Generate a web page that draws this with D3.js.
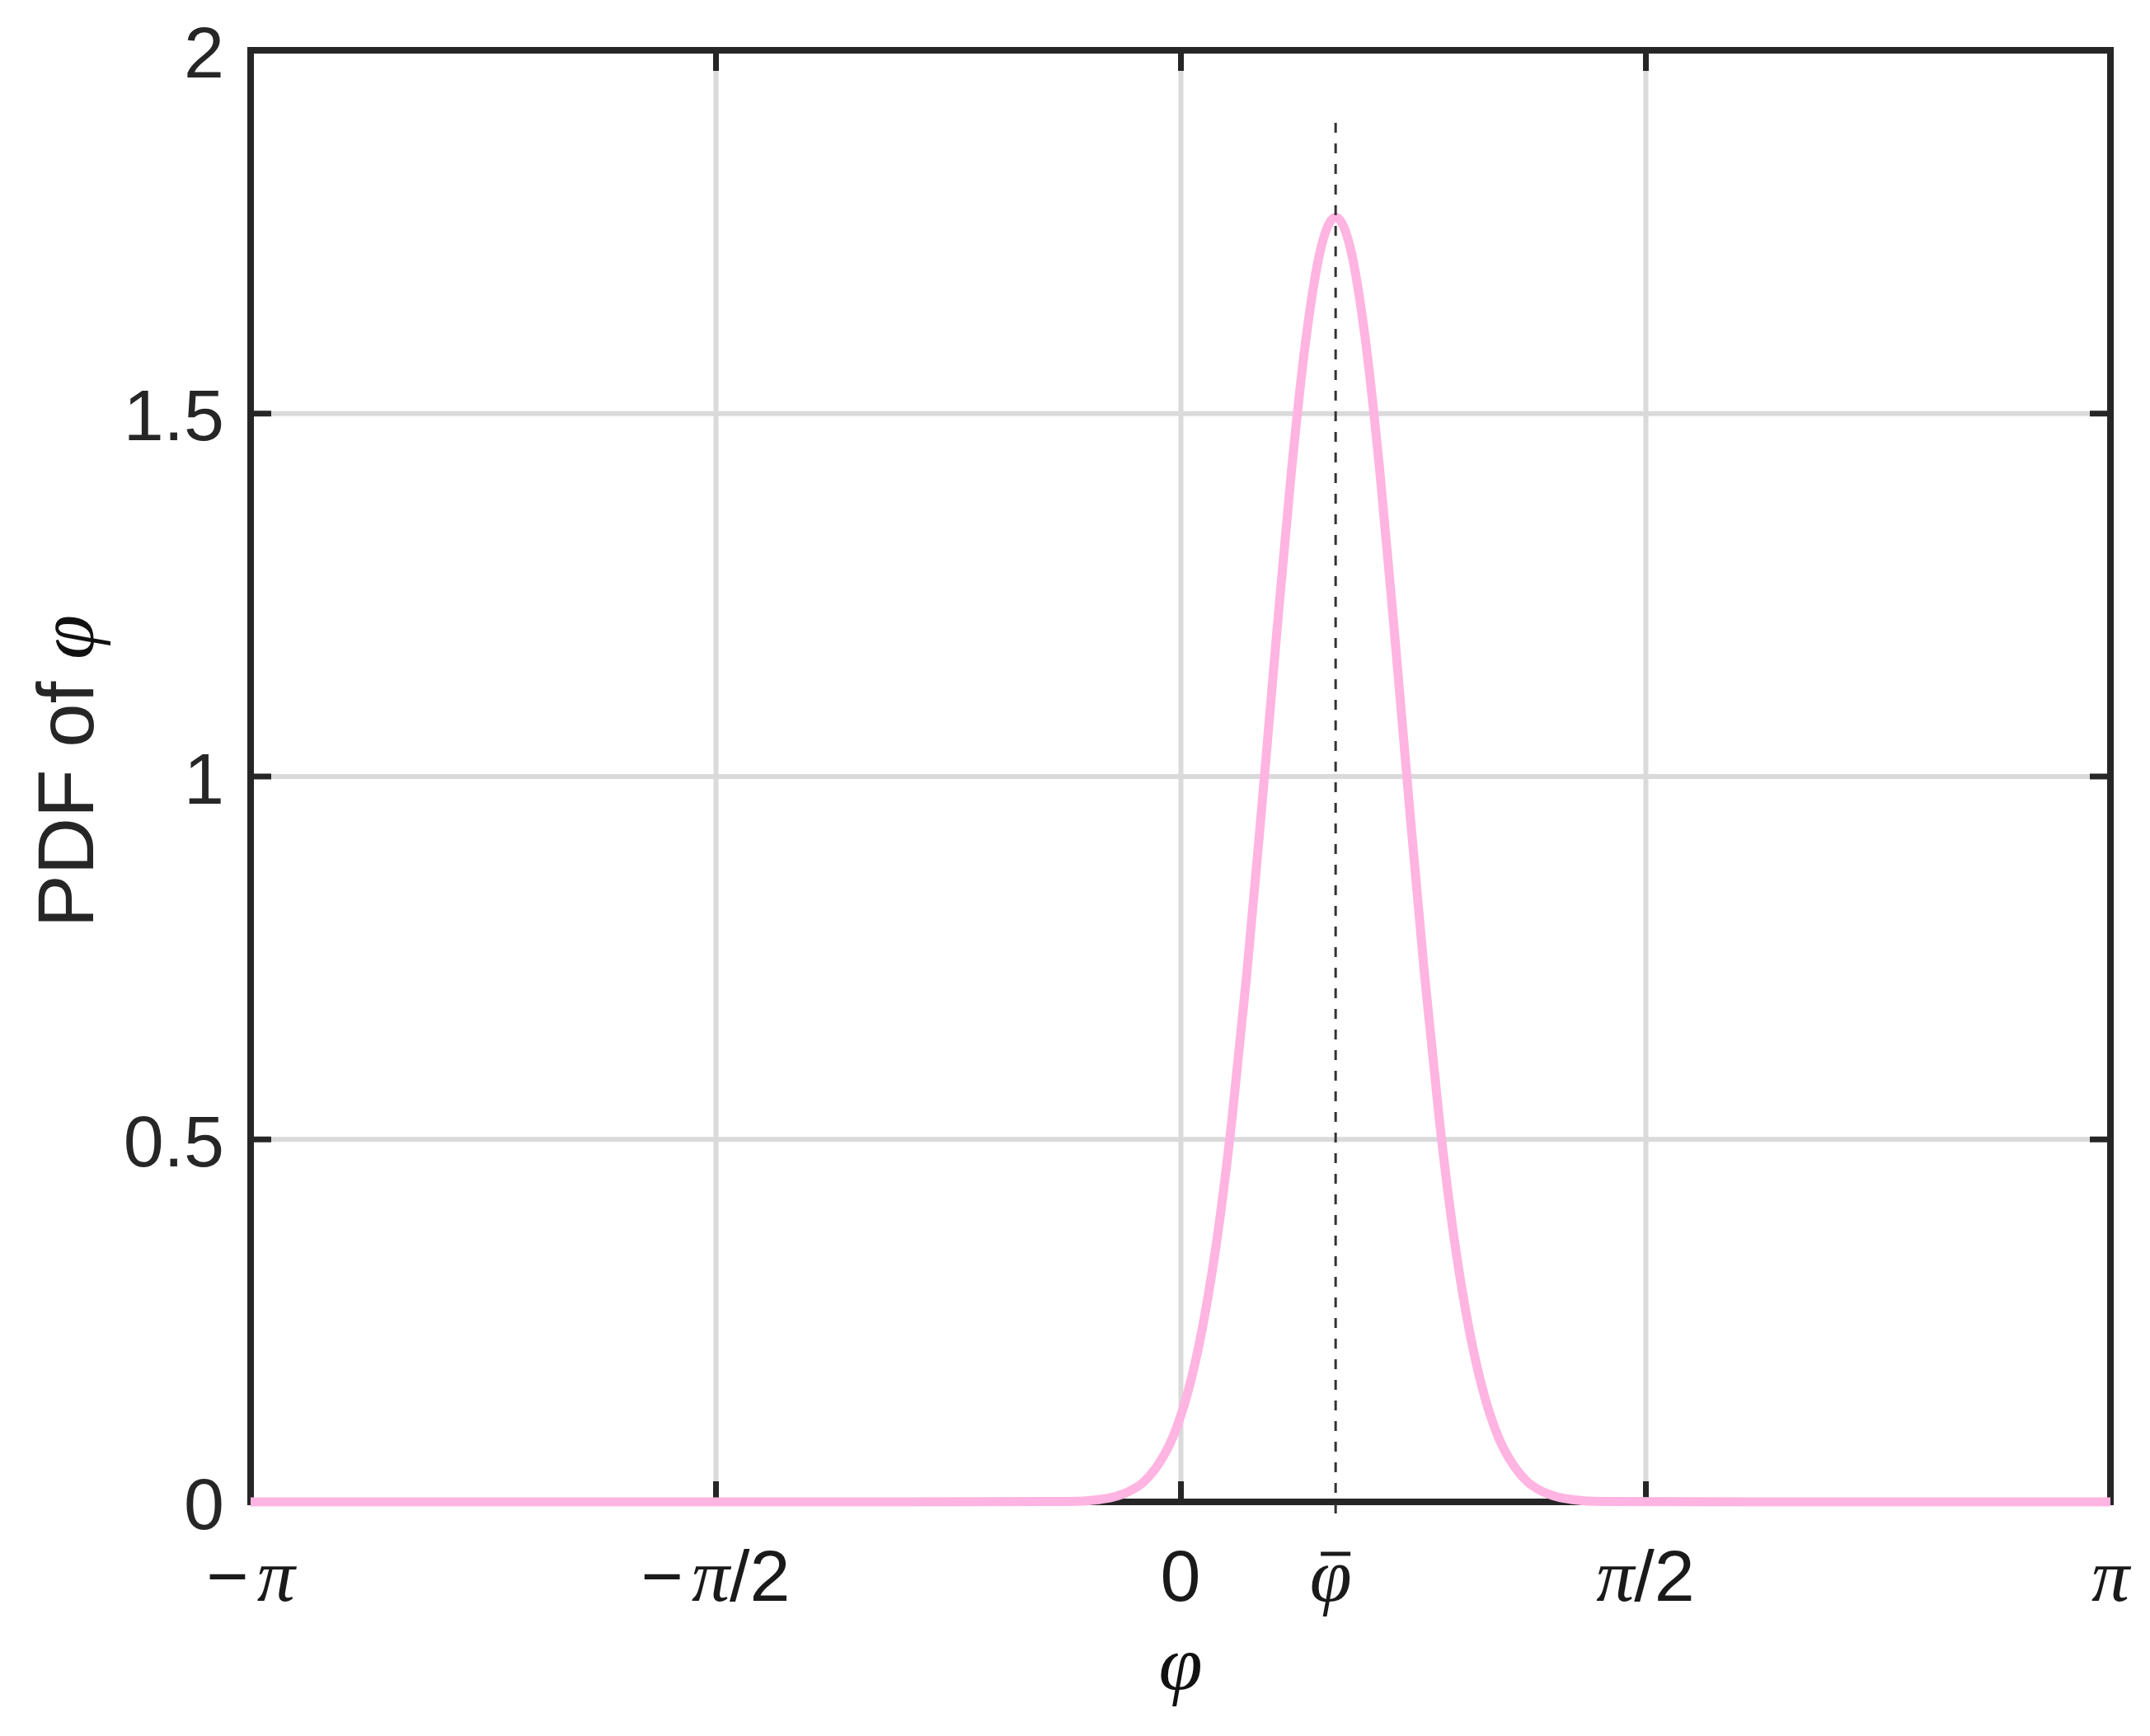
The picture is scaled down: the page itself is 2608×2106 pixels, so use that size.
<!DOCTYPE html>
<html>
<head>
<meta charset="utf-8">
<script src="https://cdn.jsdelivr.net/npm/d3@7"></script>
<style>
  html,body{margin:0;padding:0;background:#fff;}
  svg{display:block;}
</style>
</head>
<body>
<div id="chart"></div>
<script>
// ---------------- data ----------------
var phiVals=[-3.1416,-1.0,-0.376,-0.276,-0.226,-0.176,-0.126,-0.076,-0.026,0.024,0.074,0.124,0.174,0.224,0.274,0.324,0.374,0.424,0.474,0.524,
	0.574,0.624,0.674,0.724,0.774,0.824,0.874,0.924,0.974,1.024,1.074,1.124,1.174,1.224,1.274,1.324,1.424,2.0,3.1416];
var pdfVals=[0,0,0.0006,0.0032,0.0068,0.014,0.027,0.051,0.089,0.150,0.240,0.364,0.528,0.728,0.955,1.192,1.417,1.603,1.727,1.770,
	1.727,1.603,1.417,1.192,0.955,0.728,0.528,0.364,0.240,0.150,0.089,0.051,0.027,0.014,0.0068,0.0032,0.0006,0,0];

var xTickVals=[-Math.PI,-Math.PI/2,0,Math.PI/2,Math.PI];
var xTickLabels=[['−','π',''],['−','π','/2'],['0','',''],['','π','/2'],['','π','']];	// sans part, italic pi, sans suffix
var yTickVals=[0,0.5,1,1.5,2];
var yTickLabels=['0','0.5','1','1.5','2'];
var phiBar=0.524;	// mean, dashed marker
var dashRange=[-0.025,1.9];

// ---------------- layout ----------------
var W=2608,H=2106;
var L=304,R=2560,T=61,B=1822;
var SANS='"Liberation Sans",Arial,Helvetica,sans-serif';
var SERIF='"Liberation Serif","Times New Roman",serif';
var DARK='#262626';

var svg=d3.select('#chart').append('svg').attr('width',W).attr('height',H);
svg.append('rect').attr('width',W).attr('height',H).attr('fill','#fff');

var x=d3.scaleLinear().domain([-Math.PI,Math.PI]).range([L,R]);
var y=d3.scaleLinear().domain([0,2]).range([B,T]);

//---------------- grid ----------------
var gGrid=svg.append('g');
gGrid.append('g').attr('transform','translate(0,'+B+')')
	.call(d3.axisBottom(x).tickValues([-Math.PI/2,0,Math.PI/2]).tickSize(-(B-T)).tickFormat(''))
	.call(function(g){g.select('.domain').remove();})
	.selectAll('line').attr('stroke','#dadada').attr('stroke-width',6);
gGrid.append('g').attr('transform','translate('+L+',0)')
	.call(d3.axisLeft(y).tickValues([0.5,1,1.5]).tickSize(-(R-L)).tickFormat(''))
	.call(function(g){g.select('.domain').remove();})
	.selectAll('line').attr('stroke','#dadada').attr('stroke-width',6);

//---------------- box + inward ticks ----------------
var tl=25;
function tickAxis(axis,tr){
	var g=svg.append('g').attr('transform',tr).call(axis.tickSizeInner(tl).tickSizeOuter(0).tickFormat(''));
	g.select('.domain').remove();
	g.selectAll('line').attr('stroke',DARK).attr('stroke-width',7);
}
tickAxis(d3.axisTop(x).tickValues([-Math.PI/2,0,Math.PI/2]),'translate(0,'+B+')');
tickAxis(d3.axisBottom(x).tickValues([-Math.PI/2,0,Math.PI/2]),'translate(0,'+T+')');
tickAxis(d3.axisRight(y).tickValues([0.5,1,1.5]),'translate('+L+',0)');
tickAxis(d3.axisLeft(y).tickValues([0.5,1,1.5]),'translate('+R+',0)');

svg.append('rect').attr('x',L).attr('y',T).attr('width',R-L).attr('height',B-T)
	.attr('fill','none').attr('stroke',DARK).attr('stroke-width',8);

//---------------- curve ----------------
var pts=phiVals.map(function(v,i){return [v,pdfVals[i]];});
var line=d3.line().x(function(d){return x(d[0]);}).y(function(d){return y(d[1]);}).curve(d3.curveMonotoneX);
svg.append('path').datum(pts).attr('d',line)
	.attr('fill','none').attr('stroke','#ffb4e1').attr('stroke-width',11)
	.attr('stroke-linejoin','round');

// dashed mean marker
svg.append('line')
	.attr('x1',x(phiBar)).attr('x2',x(phiBar))
	.attr('y1',y(dashRange[1])).attr('y2',y(dashRange[0]))
	.attr('stroke','#333').attr('stroke-width',3).attr('stroke-dasharray','12,13');

//---------------- tick labels ----------------
var gY=svg.append('g').attr('font-family',SANS).attr('font-size',88).attr('fill',DARK).attr('text-anchor','end');
yTickVals.forEach(function(v,i){
	gY.append('text').attr('x',L-32).attr('y',y(v)+33).text(yTickLabels[i]);
});

var gX=svg.append('g').attr('fill','#1a1a1a').attr('text-anchor','middle');
xTickVals.forEach(function(v,i){
	var lab=xTickLabels[i];
	var t=gX.append('text').attr('x',x(v)).attr('y',1942);
	if(lab[0]) t.append('tspan').attr('font-family',SANS).attr('font-size',88).text(lab[0]);
	if(lab[1]) t.append('tspan').attr('dx',lab[0]?10:0).attr('font-family',SERIF).attr('font-style','italic').attr('font-size',92).text(lab[1]);
	if(lab[2]) t.append('tspan').attr('font-family',SANS).attr('font-size',88).text(lab[2]);
});

// phi-bar label
gX.append('text').attr('x',x(phiBar)-6).attr('y',1942)
	.attr('font-family',SERIF).attr('font-style','italic').attr('font-size',92).text('φ');
svg.append('line').attr('x1',x(phiBar)-18).attr('x2',x(phiBar)+18).attr('y1',1885).attr('y2',1885)
	.attr('stroke','#1a1a1a').attr('stroke-width',5);

//---------------- axis labels ----------------
svg.append('text').attr('x',x(0)).attr('y',2050).attr('text-anchor','middle')
	.attr('font-family',SERIF).attr('font-style','italic').attr('font-size',96).attr('fill','#111').text('φ');

var yl=svg.append('text').attr('transform','translate(113,'+((T+B)/2-6)+') rotate(-90)')
	.attr('text-anchor','middle').attr('font-family',SANS).attr('font-size',96).attr('fill',DARK);
yl.append('tspan').text('PDF of ');
yl.append('tspan').attr('font-family',SERIF).attr('font-style','italic').attr('font-size',98).attr('fill','#111').text('φ');
</script>
</body>
</html>
